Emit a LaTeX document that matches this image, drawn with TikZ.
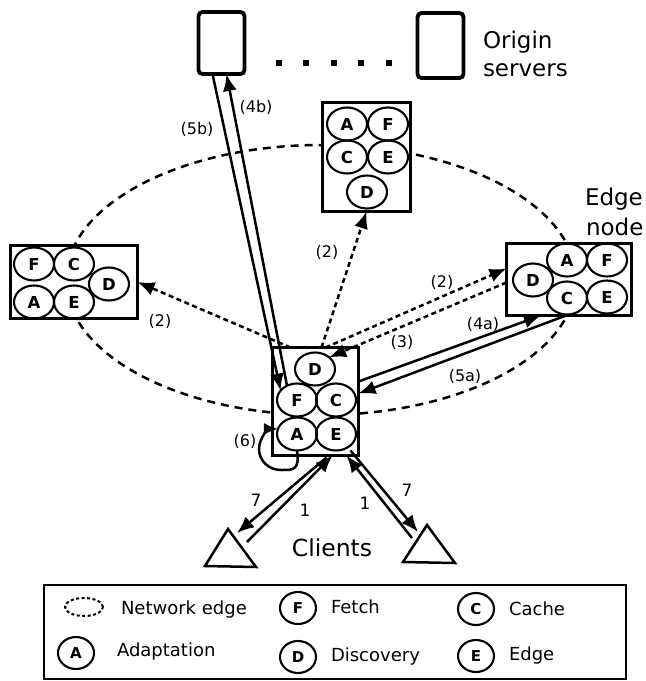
\documentclass[tikz,border=0pt]{standalone}
\usepackage{fontspec}
\setmainfont{DejaVu Sans}
\usetikzlibrary{arrows.meta,calc,shapes.geometric}
\begin{document}
\begin{tikzpicture}[x=1pt,y=-1pt,
  every node/.style={inner sep=0pt,outer sep=0pt},
  nbox/.style={draw,line width=2.7pt,fill=white,rectangle},
  srv/.style={draw,line width=3.8pt,rounded corners=4pt,minimum width=46pt,minimum height=62pt},
  mod/.style={draw,ellipse,line width=2.1pt,minimum width=40pt,minimum height=33pt,font=\fontsize{16.5}{16.5}\selectfont\bfseries},
  lmod/.style={draw,ellipse,line width=2.1pt,minimum width=36pt,minimum height=32pt,font=\fontsize{15}{15}\selectfont\bfseries},
  lbl/.style={font=\fontsize{16}{16}\selectfont},
  num/.style={font=\fontsize{17}{17}\selectfont},
  bigtxt/.style={font=\fontsize{23}{23}\selectfont,anchor=base west},
  legtxt/.style={font=\fontsize{18}{18}\selectfont,anchor=base west},
  arrowtip/.style={-{Latex[length=17pt,width=14pt]}},
  arr/.style={line width=2.5pt,arrowtip},
  darr/.style={arr,dash pattern=on 5pt off 3.5pt},
  netedge/.style={line width=2.5pt,dash pattern=on 8pt off 6pt},
]
\useasboundingbox (0,0) rectangle (646,681);
% network edge
\draw[netedge] (321,280) ellipse [x radius=255pt, y radius=135pt];
% origin servers
\node[srv] (srv1) at (221.5,43) {};
\node[srv,minimum height=65pt] (srv2) at (440.5,45.5) {};
\foreach \px in {278.5,306,333.5,361,388.5} \fill (\px-3,60) rectangle ++(6,6);
\node[bigtxt] (orig1) at (483,48) {Origin};
\node[bigtxt] (orig2) at (483,76) {servers};
% boxes
\node[nbox,minimum width=88pt,minimum height=109pt] (tb) at (366.5,157) {};
\node[nbox,minimum width=127pt,minimum height=73pt] (lb) at (74,282) {};
\node[nbox,minimum width=125pt,minimum height=72pt] (rb) at (569,279.5) {};
\node[nbox,minimum width=86pt,minimum height=108pt] (cb) at (315.5,401.5) {};
% top box modules
\node[mod] (tA) at (347,124) {A};
\node[mod] (tF) at (388,124) {F};
\node[mod] (tC) at (347,157) {C};
\node[mod] (tE) at (388,157) {E};
\node[mod] (tD) at (367,192) {D};
% left box modules
\node[mod] (lF) at (34,264) {F};
\node[mod] (lC) at (74,264) {C};
\node[mod] (lA) at (34,302) {A};
\node[mod] (lE) at (74,302) {E};
\node[mod] (lD) at (109,284) {D};
% right box modules
\node[mod] (rA) at (567,260) {A};
\node[mod] (rF) at (607,260) {F};
\node[mod] (rC) at (567,298) {C};
\node[mod] (rE) at (607,297) {E};
\node[mod] (rD) at (533,280) {D};
% center box modules
\node[mod] (cD) at (315,369) {D};
\node[mod] (cF) at (297,400) {F};
\node[mod] (cC) at (336,400) {C};
\node[mod] (cA) at (297,434) {A};
\node[mod] (cE) at (336,434) {E};
\node[bigtxt] (edge1) at (585,205) {Edge};
\node[bigtxt] (edge2) at (586,235) {node};
% discovery arrows
\coordinate (sL) at ($(cb.north)+(-25,0)$);
\coordinate (sT) at ($(cb.north)+(6,0)$);
\coordinate (sR) at ($(cb.north)+(10,0)$);
\draw[darr] (sL) -- (lb.east);
\draw[darr] (sT) -- (tb.south);
\draw[darr] (sR) -- (rb.170);
\draw[darr] ($(rb.west)+(0,3)$) -- (cD.north east);
\node[lbl] (l2a) at (160,321) {(2)};
\node[lbl] (l2b) at (327,252) {(2)};
\node[lbl] (l2c) at (442,282) {(2)};
\node[lbl] (l3) at (402,342) {(3)};
% origin fetch
\draw[arr] ($(srv1.south)+(-9,0)$) -- (cF.150);
\draw[arr] (cF.125) -- ($(srv1.south)+(5,0)$);
\node[lbl] (l5b) at (197,129) {(5b)};
\node[lbl] (l4b) at (256,107) {(4b)};
% edge fetch
\draw[arr] ($(cb.east)+(0,-20)$) -- ($(rb.south)+(-28,0)$);
\draw[arr] ($(rb.south)+(-3,0)$) -- ($(cb.east)+(0,-8)$);
\node[lbl] (l4a) at (483,324) {(4a)};
\node[lbl] (l5a) at (465,376) {(5a)};
% adaptation loop
\coordinate (lpB) at (281,470);
\coordinate (lpL) at (259,449);
\draw[line width=2.5pt,-{Latex[length=14pt,width=12pt]}] (cA.south) .. controls +(3,20) and +(12,0) .. (lpB)
  .. controls +(-12,0) and +(0,12) .. (lpL) .. controls +(0,-12) and +(-8,0) .. (cA.165);
\node[lbl] (l6) at (245,441) {(6)};
% clients
\coordinate (tL) at (228,529);
\coordinate (tR) at (427,525);
\draw[line width=2.5pt,line join=miter] (tL) -- ++(-23,37) -- ++(51,1) -- cycle;
\draw[line width=2.5pt,line join=miter] (tR) -- ++(-24,37) -- ++(52,1) -- cycle;
\draw[arr] ($(cb.south)+(11,2)$) -- ($(tL)+(9,4)$);
\draw[arr] ($(tL)+(19,13)$) -- ($(cb.south)+(17,0)$);
\draw[arr] ($(tR)+(-15,13)$) -- ($(cb.south)+(31,0)$);
\draw[arr] ($(cb.south)+(35,-5)$) -- ($(tR)+(-9,7)$);
\node[num] (n7a) at (256,500) {7};
\node[num] (n1a) at (305,510) {1};
\node[num] (n1b) at (365,503) {1};
\node[num] (n7b) at (407,490) {7};
\node[font=\fontsize{23.5}{23.5}\selectfont,anchor=base] (cli) at (332,556) {Clients};
% legend
\node[draw,line width=2pt,minimum width=582pt,minimum height=94pt] (legend) at (335,632) {};
\draw[line width=2pt,dash pattern=on 3pt off 2.5pt] (84,607) ellipse [x radius=19pt,y radius=9pt];
\node[legtxt] (tNet) at (121,614) {Network edge};
\node[lmod] (gF) at (298,608) {F};
\node[legtxt] (tFetch) at (331,613) {Fetch};
\node[lmod] (gC) at (476,609) {C};
\node[legtxt] (tCache) at (509,615) {Cache};
\node[lmod] (gA) at (76,653) {A};
\node[legtxt] (tAd) at (117,656) {Adaptation};
\node[lmod] (gD) at (298,657) {D};
\node[legtxt] (tDi) at (331,661) {Discovery};
\node[lmod] (gE) at (476,656) {E};
\node[legtxt] (tEd) at (509,660) {Edge};
\end{tikzpicture}
\end{document}
